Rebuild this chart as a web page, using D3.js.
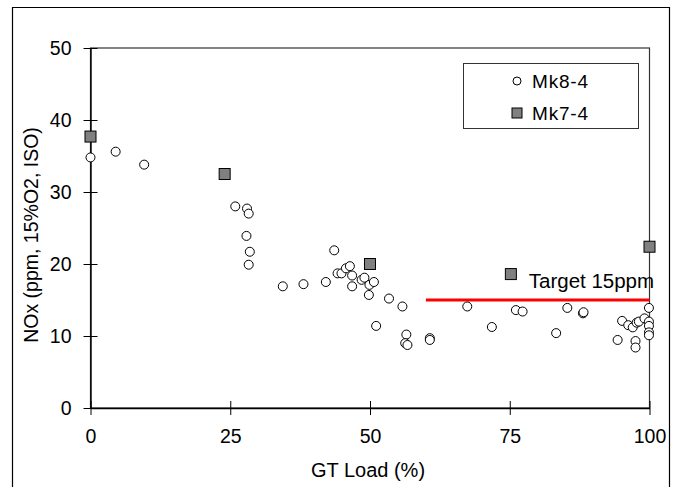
<!DOCTYPE html>
<html>
<head>
<meta charset="utf-8">
<script src="https://cdn.jsdelivr.net/npm/d3@7"></script>
<style>
  body { margin: 0; background: #fff; }
  text { font-family: "Liberation Sans", Arial, sans-serif; fill: #000; }
</style>
</head>
<body>
<svg width="678" height="487"></svg>
<script>
// Mk8-4 measurements: GT load (%) and NOx (ppm)
var mk8Load = [0, 4.5, 9.6, 25.9, 28.0, 28.3, 27.9, 28.5, 28.3, 34.4, 38.1, 42.1, 43.6, 44.2, 44.9, 45.7, 46.4, 46.8,
  46.8, 48.5, 49.0, 49.9, 50.7, 49.8, 53.4, 55.8, 51.1, 56.5, 56.3, 56.7, 60.7, 60.7, 67.4, 71.8, 76.1, 77.3,
  83.3, 85.3, 88.1, 88.2, 95.1, 94.3, 96.2, 97.0, 97.7, 98.1, 99.1, 97.5, 97.5, 99.9, 99.9, 99.9, 99.9, 99.9];
var mk8NOx = [34.8, 35.6, 33.8, 28.0, 27.7, 27.0, 23.9, 21.7, 19.9, 16.9, 17.2, 17.5, 21.9, 18.7, 18.7, 19.4, 19.7, 18.4,
  16.9, 17.8, 18.1, 17.1, 17.5, 15.7, 15.2, 14.1, 11.4, 10.2, 9.0, 8.75, 9.7, 9.45, 14.1, 11.25, 13.6, 13.4,
  10.4, 13.9, 13.15, 13.3, 12.1, 9.45, 11.5, 11.2, 11.85, 12.0, 12.45, 9.3, 8.4, 13.9, 12.0, 11.4, 10.5, 10.1];

// Mk7-4 measurements
var mk7Load = [0, 24, 50, 75.2, 100];
var mk7NOx = [37.7, 32.5, 20.0, 18.6, 22.4];

var targetRange = [60, 100];
var targetNOx = 15;
var targetLabel = "Target 15ppm";

var xTicks = [0, 25, 50, 75, 100];
var yTicks = [0, 10, 20, 30, 40, 50];
var seriesNames = ["Mk8-4", "Mk7-4"];

var svg = d3.select("svg"),
    width = +svg.attr("width"),
    height = +svg.attr("height");

var x = d3.scaleLinear().domain([0, 100]).range([90.5, 649.5]);
var y = d3.scaleLinear().domain([0, 50]).range([408, 48]);

// outer chart frame (bottom edge runs off the picture)
svg.append("path")
  .attr("d", "M12.5," + (height + 5) + "V7.5H669.5V" + (height + 5))
  .attr("fill", "none")
  .attr("stroke", "#000")
  .attr("stroke-width", 1.2);

// plot area border
svg.append("rect")
  .attr("x", x(0)).attr("y", y(50))
  .attr("width", x(100) - x(0)).attr("height", y(0) - y(50))
  .attr("fill", "none")
  .attr("stroke", "#333")
  .attr("stroke-width", 1.2);

// axes
var xAxis = svg.append("g")
  .attr("transform", "translate(0," + y(0) + ")")
  .call(d3.axisBottom(x).tickValues(xTicks).tickSize(7).tickPadding(14).tickSizeOuter(0));
xAxis.selectAll(".tick line").attr("y1", -7).attr("y2", 7);

var yAxis = svg.append("g")
  .attr("transform", "translate(" + x(0) + ",0)")
  .call(d3.axisLeft(y).tickValues(yTicks).tickSize(7).tickPadding(12).tickSizeOuter(0));
yAxis.selectAll(".tick line").attr("x1", -7).attr("x2", 7);

svg.selectAll(".domain").attr("stroke", "#000").attr("stroke-width", 1.4);
svg.selectAll(".tick line").attr("stroke", "#000");
svg.selectAll(".tick text")
  .style("font-size", "19.5px")
  .attr("fill", "#000");

// axis titles
svg.append("text")
  .attr("x", 368).attr("y", 477)
  .attr("text-anchor", "middle")
  .style("font-size", "20px")
  .text("GT Load (%)");

svg.append("text")
  .attr("transform", "translate(38,235) rotate(-90)")
  .attr("text-anchor", "middle")
  .style("font-size", "19.5px")
  .text("NOx (ppm, 15%O2, ISO)");

// target line
svg.append("line")
  .attr("x1", x(targetRange[0])).attr("x2", x(targetRange[1]))
  .attr("y1", y(targetNOx)).attr("y2", y(targetNOx))
  .attr("stroke", "#ff0000")
  .attr("stroke-width", 3);

svg.append("text")
  .attr("x", x(78.4)).attr("y", y(targetNOx) - 12)
  .style("font-size", "20.5px")
  .text(targetLabel);

// Mk8-4 circles
svg.append("g")
  .selectAll("circle")
  .data(d3.range(mk8Load.length))
  .enter().append("circle")
  .attr("cx", function(i) { return x(mk8Load[i]); })
  .attr("cy", function(i) { return y(mk8NOx[i]); })
  .attr("r", 4.5)
  .attr("fill", "#fff")
  .attr("stroke", "#000")
  .attr("stroke-width", 1);

// Mk7-4 squares
var sq = 11;
svg.append("g")
  .selectAll("rect")
  .data(d3.range(mk7Load.length))
  .enter().append("rect")
  .attr("x", function(i) { return x(mk7Load[i]) - sq / 2; })
  .attr("y", function(i) { return y(mk7NOx[i]) - sq / 2; })
  .attr("width", sq).attr("height", sq)
  .attr("fill", "#808080")
  .attr("stroke", "#000")
  .attr("stroke-width", 1);

// legend
var legend = svg.append("g").attr("transform", "translate(463,63)");
legend.append("rect")
  .attr("x", 0.5).attr("y", 0.5)
  .attr("width", 175).attr("height", 65)
  .attr("fill", "#fff")
  .attr("stroke", "#333");
legend.append("circle")
  .attr("cx", 54).attr("cy", 18).attr("r", 4)
  .attr("fill", "#fff").attr("stroke", "#000");
legend.append("rect")
  .attr("x", 49).attr("y", 45).attr("width", 10).attr("height", 10)
  .attr("fill", "#808080").attr("stroke", "#000");
legend.selectAll("text.lbl")
  .data(seriesNames)
  .enter().append("text")
  .attr("class", "lbl")
  .attr("x", 69)
  .attr("y", function(d, i) { return 18 + i * 32; })
  .attr("dy", "0.36em")
  .style("font-size", "19px")
  .style("letter-spacing", "0.8px")
  .text(function(d) { return d; });
</script>
</body>
</html>
